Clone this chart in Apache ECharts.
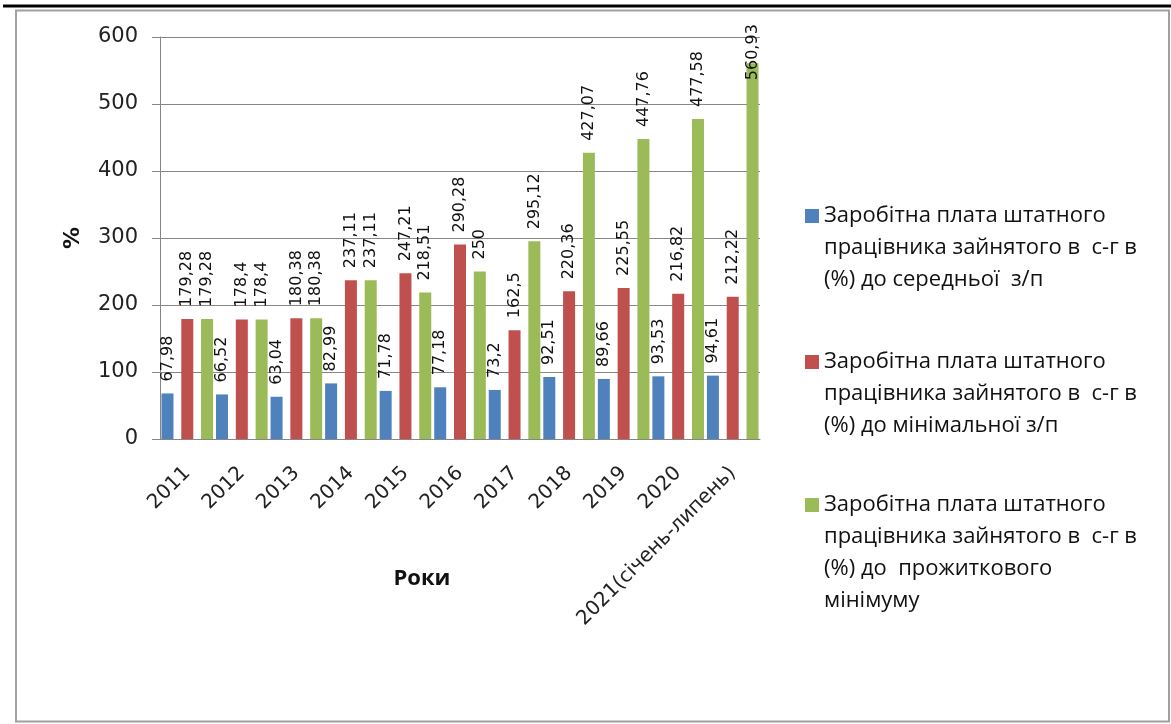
<!DOCTYPE html>
<html>
<head>
<meta charset="utf-8">
<script src="https://cdn.jsdelivr.net/npm/echarts@6/dist/echarts.min.js"></script>
<style>
  html, body { margin: 0; padding: 0; background: #fff; }
  #main { width: 1171px; height: 724px; }
</style>
</head>
<body>
<div id="main"></div>
<script>
const years = ['2011', '2012', '2013', '2014', '2015', '2016', '2017', '2018', '2019', '2020', '2021(січень-липень)']
// до середньої з/п
const avgWage = [67.98, 66.52, 63.04, 82.99, 71.78, 77.18, 73.2, 92.51, 89.66, 93.53, 94.61]
// до мінімальної з/п
const minWage = [179.28, 178.4, 180.38, 237.11, 247.21, 290.28, 162.5, 220.36, 225.55, 216.82, 212.22]
// до прожиткового мінімуму
const subsistence = [179.28, 178.4, 180.38, 237.11, 218.51, 250, 295.12, 427.07, 447.76, 477.58, 560.93]
const yTicks = [0, 100, 200, 300, 400, 500, 600]

const names = [
  'Заробітна плата штатного\nпрацівника зайнятого в  с-г в\n(%) до середньої  з/п',
  'Заробітна плата штатного\nпрацівника зайнятого в  с-г в\n(%) до мінімальної з/п',
  'Заробітна плата штатного\nпрацівника зайнятого в  с-г в\n(%) до  прожиткового\nмінімуму',
]
const colors = ['#4f81bd', '#c0504d', '#9bbb59']

const fmt = p => String(p.value).replace('.', ',')

const barLabel = {
  show: true,
  position: 'top',
  rotate: 90,
  align: 'left',
  verticalAlign: 'middle',
  distance: 12,
  fontFamily: 'DejaVu Sans',
  fontSize: 16,
  color: '#111',
  formatter: fmt,
}

const barStyle = c => ({ color: c, borderWidth: 0, borderRadius: 0 })

// last green value sits near the top, label pushed down like in the original
const greenData = subsistence.map((v, i) => i === subsistence.length - 1
  ? { value: v, label: { distance: -17 } }
  : v)

const makeLegend = (idx, top, lines) => ({
  data: [names[idx]],
  left: 805,
  top: top,
  orient: 'vertical',
  padding: 0,
  itemWidth: 14,
  itemHeight: lines * 32,
  icon: 'path://M0,9H14V23H0Z M0,0L0,0.01 M14,' + (lines * 32 - 0.01) + 'L14,' + (lines * 32),
  selectedMode: false,
  textStyle: {
    fontFamily: 'Open Sans',
    fontSize: 22,
    lineHeight: 32,
    color: '#111',
  },
})

const myChart = echarts.init(document.getElementById('main'))
myChart.setOption({
  animation: false,
  backgroundColor: '#fff',
  graphic: [
    { type: 'rect', shape: { x: 16, y: 10.5, width: 1153, height: 711 }, style: { fill: 'none', stroke: '#a0a0a0', lineWidth: 2 }, z: -1 },
    { type: 'line', shape: { x1: 3, y1: 6, x2: 1171, y2: 6 }, style: { stroke: '#000', lineWidth: 3 } },
  ],
  grid: { left: 160, right: 411, top: 37, bottom: 285 },
  legend: [makeLegend(0, 200, 3), makeLegend(1, 346, 3), makeLegend(2, 489, 4)],
  xAxis: {
    type: 'category',
    data: years,
    name: 'Роки',
    nameLocation: 'middle',
    nameGap: 129,
    nameMoveOverlap: false,
    nameTextStyle: { fontFamily: 'Open Sans', fontWeight: 'bold', fontSize: 22, color: '#111', padding: [0, 76, 0, 0] },
    axisLine: { lineStyle: { color: '#868686', width: 1 } },
    axisTick: { length: 8, lineStyle: { color: '#868686' } },
    axisLabel: { rotate: 45, margin: 31, fontFamily: 'DejaVu Sans', fontSize: 20, color: '#222' },
  },
  yAxis: {
    type: 'value',
    min: yTicks[0],
    max: yTicks[yTicks.length - 1],
    interval: 100,
    name: '%',
    nameLocation: 'middle',
    nameRotate: 90,
    nameGap: 76,
    nameMoveOverlap: false,
    nameTextStyle: { fontFamily: 'DejaVu Sans', fontWeight: 'bold', fontSize: 22, color: '#111' },
    axisLine: { show: true, lineStyle: { color: '#868686', width: 1 } },
    axisTick: { show: true, length: 8, lineStyle: { color: '#868686' } },
    axisLabel: { margin: 22, fontFamily: 'DejaVu Sans', fontSize: 21, color: '#222' },
    splitLine: { lineStyle: { color: '#868686', width: 1 } },
  },
  series: [
    { name: names[0], type: 'bar', data: avgWage, barWidth: 12, barGap: '65%', itemStyle: barStyle(colors[0]), label: barLabel },
    { name: names[1], type: 'bar', data: minWage, barWidth: 12, barGap: '65%', itemStyle: barStyle(colors[1]), label: barLabel },
    { name: names[2], type: 'bar', data: greenData, barWidth: 12, barGap: '65%', itemStyle: barStyle(colors[2]), label: barLabel },
  ],
})
</script>
</body>
</html>
